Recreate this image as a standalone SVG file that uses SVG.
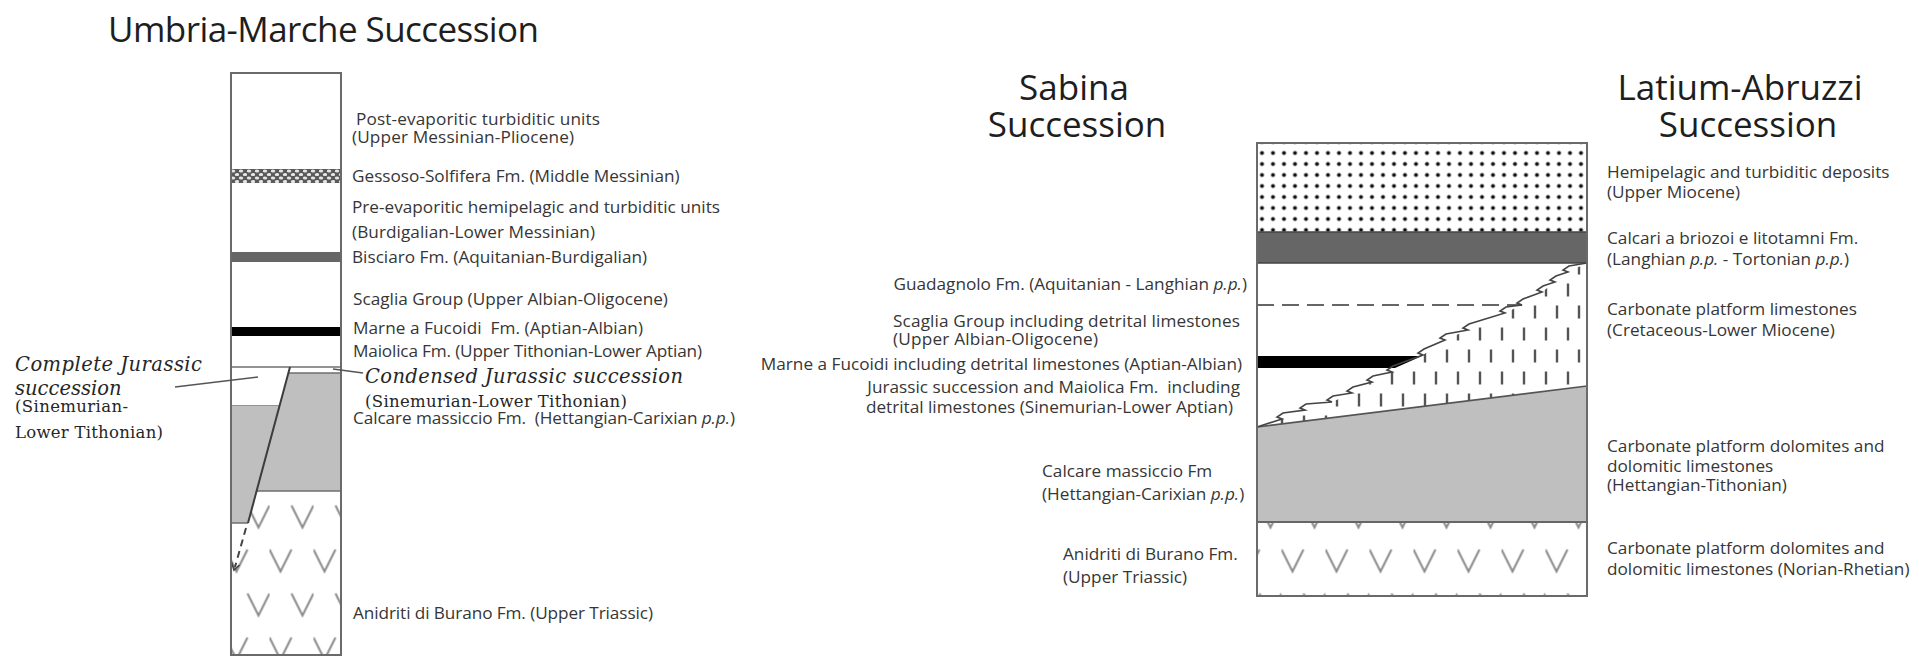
<svg xmlns="http://www.w3.org/2000/svg" width="1919" height="656" viewBox="0 0 1919 656">
<defs>
<style>
.t{font-family:"Open Sans","Liberation Sans",sans-serif;font-size:17.2px;fill:#363636}
.h{font-family:"Open Sans","Liberation Sans",sans-serif;font-size:35px;fill:#1e1e1e}
.s{font-family:"DejaVu Serif","Liberation Serif",serif;fill:#262626}
.si{font-style:italic;font-size:19.5px}
.sn{font-size:16.5px}
.i{font-style:italic}
.edge{fill:none;stroke:#6a6a6a;stroke-width:2}
.ln{fill:none;stroke:#6f6f6f;stroke-width:1.6}
.lead{fill:none;stroke:#555;stroke-width:1.6}
.gray{fill:#bfbfbf}
.end{text-anchor:end}
.mid{text-anchor:middle}
</style>
<pattern id="dots" patternUnits="userSpaceOnUse" x="2.5" y="4.5" width="11" height="11"><circle cx="5.5" cy="5.5" r="2" fill="#111"/></pattern>
<pattern id="vv" patternUnits="userSpaceOnUse" x="5.5" y="503.5" width="44" height="88"><path d="M22,2 L33,24 L44,2 M0,46 L11,68 L22,46" fill="none" stroke="#8a8a8a" stroke-width="2"/></pattern>
<pattern id="ticks" patternUnits="userSpaceOnUse" x="0" y="-8" width="22" height="44"><path d="M17,5.5 V18.5 M6,27.5 V40.5" stroke="#555" stroke-width="2.4"/></pattern>
<pattern id="gyp" patternUnits="userSpaceOnUse" x="231" y="169" width="8" height="7"><rect width="8" height="7" fill="#5a5a5a"/><ellipse cx="2" cy="2" rx="2.2" ry="1.6" fill="#e6e6e6"/><ellipse cx="6" cy="5.5" rx="2.2" ry="1.6" fill="#e6e6e6"/></pattern>
<clipPath id="leftV"><polygon points="248,523 256.6,491 341,491 341,655 231,655 231,523"/></clipPath>
</defs>
<rect width="1919" height="656" fill="#ffffff"/>

<!-- Titles -->
<g id="titles">
<text class="h" x="108" y="42" textLength="431">Umbria-Marche Succession</text>
<text class="h mid" x="1074" y="100">Sabina</text>
<text class="h mid" x="1077" y="137">Succession</text>
<text class="h mid" x="1740" y="100">Latium-Abruzzi</text>
<text class="h mid" x="1748" y="137">Succession</text>
</g>

<!-- Umbria-Marche column -->
<g id="umbria-column">
<rect x="231" y="73" width="110" height="582" fill="#fff"/>
<g id="um-gessoso"><rect x="231" y="169" width="110" height="14" fill="url(#gyp)"/></g>
<g id="um-bisciaro"><rect x="231" y="252" width="110" height="10" fill="#666"/></g>
<g id="um-marne"><rect x="231" y="327" width="110" height="9" fill="#000"/></g>
<path class="ln" d="M231,367 H341"/>
<g id="um-complete-jurassic"><path class="ln" d="M231,406 H279.5"/></g>
<g id="um-calcare">
<polygon class="gray" points="231,406 279.5,406 248,523 231,523"/>
<polygon class="gray" points="288.4,373 341,373 341,491 256.6,491"/>
<path class="ln" d="M288.4,373 H341 M256.6,491 H341 M231,523 H248"/>
</g>
<g id="um-anidriti">
<rect x="231" y="480" width="110" height="175" fill="url(#vv)" clip-path="url(#leftV)"/>
<path d="M246,528 L235,567" fill="none" stroke="#444" stroke-width="2" stroke-dasharray="7 5"/>
<path d="M231.5,562 L234,570 L239.5,565" fill="none" stroke="#444" stroke-width="1.6"/>
</g>
<path d="M290,367 L248,523" fill="none" stroke="#3c3c3c" stroke-width="2"/>
<rect class="edge" x="231" y="73" width="110" height="582"/>
</g>

<!-- Umbria-Marche labels -->
<g id="umbria-labels">
<text class="t" x="356" y="125" textLength="244">Post-evaporitic turbiditic units</text>
<text class="t" x="352" y="143" textLength="222">(Upper Messinian-Pliocene)</text>
<text class="t" x="352" y="182">Gessoso-Solfifera Fm. (Middle Messinian)</text>
<text class="t" x="352" y="213">Pre-evaporitic hemipelagic and turbiditic units</text>
<text class="t" x="352" y="238" textLength="243">(Burdigalian-Lower Messinian)</text>
<text class="t" x="352" y="263">Bisciaro Fm. (Aquitanian-Burdigalian)</text>
<text class="t" x="353" y="305">Scaglia Group (Upper Albian-Oligocene)</text>
<text class="t" x="353" y="334" textLength="290" xml:space="preserve">Marne a Fucoidi  Fm. (Aptian-Albian)</text>
<text class="t" x="353" y="357" textLength="349">Maiolica Fm. (Upper Tithonian-Lower Aptian)</text>
<text class="s si" x="365" y="383" textLength="318">Condensed Jurassic succession</text>
<text class="s sn" x="365" y="407" textLength="262">(Sinemurian-Lower Tithonian)</text>
<text class="t" x="353" y="424" textLength="382" xml:space="preserve">Calcare massiccio Fm.  (Hettangian-Carixian <tspan class="i">p.p.</tspan>)</text>
<text class="t" x="353" y="619" textLength="300">Anidriti di Burano Fm. (Upper Triassic)</text>
<text class="s si" x="15" y="371" textLength="187">Complete Jurassic</text>
<text class="s si" x="15" y="395">succession</text>
<text class="s sn" x="15" y="412" textLength="113">(Sinemurian-</text>
<text class="s sn" x="15" y="438" textLength="148">Lower Tithonian)</text>
</g>

<!-- Sabina / Latium-Abruzzi column -->
<g id="sabina-column">
<rect x="1257" y="143" width="330" height="453" fill="#fff"/>
<g id="la-hemipelagic"><rect x="1257" y="143" width="330" height="89" fill="url(#dots)"/></g>
<g id="la-calcari-briozoi"><rect x="1257" y="232" width="330" height="31" fill="#666"/>
<path d="M1257,232 H1587 M1257,263 H1587" stroke="#444" stroke-width="1.6"/></g>
<g id="sa-calcare"><polygon class="gray" points="1257,427 1587,386 1587,522 1257,522"/>
<path d="M1257,427 L1587,386" stroke="#555" stroke-width="1.6"/></g>
<g id="la-anidriti"><rect x="1257" y="522" width="330" height="74" fill="url(#vv)"/>
<path d="M1257,522 H1587" stroke="#666" stroke-width="2"/></g>
<g id="la-platform-limestones"><polygon fill="url(#ticks)" points="1257,427 1282,419 1305,410 1332,402 1352,393 1372,382 1392,372 1423,355 1445,340 1468,330 1505,313 1522,305 1542,292 1555,282 1568,272 1587,263 1587,386"/></g>
<g id="sa-marne"><polygon fill="#000" points="1257,356 1422,356 1395,368 1257,368"/></g>
<g id="sa-guadagnolo"><path d="M1257,305 H1522" fill="none" stroke="#666" stroke-width="2" stroke-dasharray="17 8"/></g>
<path d="M1257,427 L1282,419 l-5,-2 l6,-4 L1305,410 l-5,-2 l6,-4 L1332,402 l-5,-2 l6,-4 L1352,393 l-5,-2 l6,-4 L1372,382 l-5,-2 l6,-4 L1392,372 l-5,-2 l6,-4 L1423,355 l-5,-2 l6,-4 L1445,340 l-5,-2 l6,-4 L1468,330 l-5,-2 l6,-4 L1505,313 l-5,-2 l6,-4 L1522,305 l-5,-2 l6,-4 L1542,292 l-5,-2 l6,-4 L1555,282 l-5,-2 l6,-4 L1568,272 l-5,-2 l6,-4 L1587,263" fill="none" stroke="#444" stroke-width="1.6"/>
<rect class="edge" x="1257" y="143" width="330" height="453"/>
</g>

<!-- Sabina labels -->
<g id="sabina-labels">
<text class="t end" x="1247" y="290">Guadagnolo Fm. (Aquitanian - Langhian <tspan class="i">p.p.</tspan>)</text>
<text class="t" x="893" y="327" textLength="347">Scaglia Group including detrital limestones</text>
<text class="t" x="893" y="345" textLength="205">(Upper Albian-Oligocene)</text>
<text class="t end" x="1242" y="370">Marne a Fucoidi including detrital limestones (Aptian-Albian)</text>
<text class="t end" x="1240" y="393" xml:space="preserve">Jurassic succession and Maiolica Fm.  including</text>
<text class="t end" x="1233" y="413">detrital limestones (Sinemurian-Lower Aptian)</text>
<text class="t" x="1042" y="477">Calcare massiccio Fm</text>
<text class="t" x="1042" y="500">(Hettangian-Carixian <tspan class="i">p.p.</tspan>)</text>
<text class="t" x="1063" y="560">Anidriti di Burano Fm.</text>
<text class="t" x="1063" y="583">(Upper Triassic)</text>
</g>

<!-- Latium-Abruzzi labels -->
<g id="latium-labels">
<text class="t" x="1607" y="178">Hemipelagic and turbiditic deposits</text>
<text class="t" x="1607" y="198">(Upper Miocene)</text>
<text class="t" x="1607" y="244">Calcari a briozoi e litotamni Fm.</text>
<text class="t" x="1607" y="265">(Langhian <tspan class="i">p.p.</tspan> - Tortonian <tspan class="i">p.p.</tspan>)</text>
<text class="t" x="1607" y="315">Carbonate platform limestones</text>
<text class="t" x="1607" y="336">(Cretaceous-Lower Miocene)</text>
<text class="t" x="1607" y="452">Carbonate platform dolomites and</text>
<text class="t" x="1607" y="472">dolomitic limestones</text>
<text class="t" x="1607" y="491">(Hettangian-Tithonian)</text>
<text class="t" x="1607" y="554">Carbonate platform dolomites and</text>
<text class="t" x="1607" y="575">dolomitic limestones (Norian-Rhetian)</text>
</g>

<!-- Leader lines -->
<g id="connectors">
<path class="lead" d="M175,387 L258,377"/>
<path class="lead" d="M333,369 L363,373"/>
</g>
</svg>
